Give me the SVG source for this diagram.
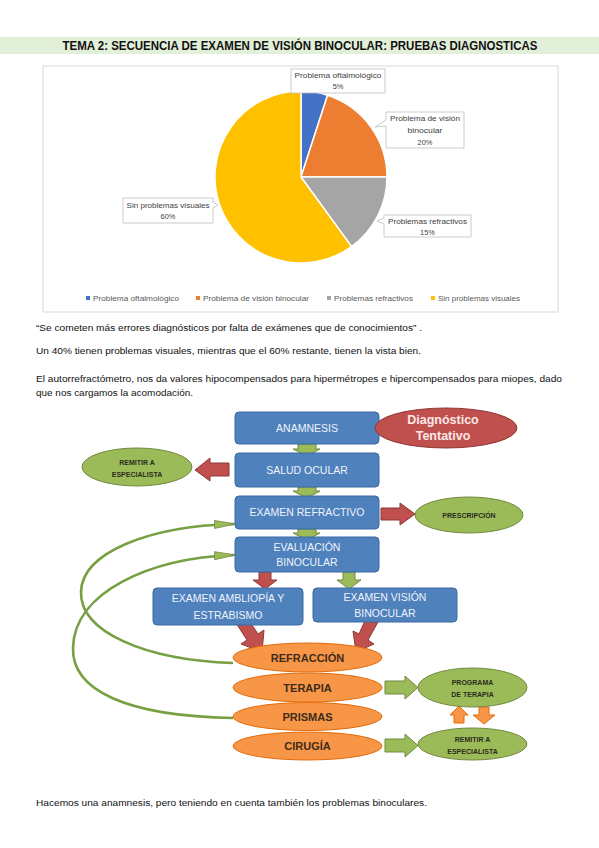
<svg xmlns="http://www.w3.org/2000/svg" width="599" height="848" viewBox="0 0 599 848">
<defs>
<style>
.body{font-family:"Liberation Sans",Arial,sans-serif;font-size:9.6px;fill:#111}
.lbl{font-family:"Liberation Sans",Arial,sans-serif;font-size:7.4px;fill:#404040;text-anchor:middle}
.leg{font-family:"Liberation Sans",Arial,sans-serif;font-size:7.4px;fill:#595959}
.lblbox{fill:#fff;stroke:#bfbfbf;stroke-width:0.8}
.box{fill:#4f81bd;stroke:#3a6aa6;stroke-width:1}
.boxt{font-family:"Liberation Sans",Arial,sans-serif;font-size:10.5px;fill:#eef3fa;text-anchor:middle}
.gr{fill:#9bbb59;stroke:#71893f;stroke-width:1}
.grt{font-family:"Liberation Sans",Arial,sans-serif;font-size:7px;font-weight:bold;fill:#2b2b1c;text-anchor:middle}
.rd{fill:#c0504d;stroke:#8c3836;stroke-width:1}
.or{fill:#f79646;stroke:#e46c0a;stroke-width:1}
.ort{font-family:"Liberation Sans",Arial,sans-serif;font-size:11px;font-weight:bold;fill:#3d2b1c;text-anchor:middle}
.dgt{font-family:"Liberation Sans",Arial,sans-serif;font-size:12.5px;font-weight:bold;fill:#fbe9e8;text-anchor:middle}
.curve{fill:none;stroke:#77a043;stroke-width:2.6}
</style>
<marker id="gh" viewBox="0 0 22 9" refX="20" refY="4.5" markerWidth="22" markerHeight="9" markerUnits="userSpaceOnUse" orient="auto">
<path d="M0.5,0.5 L21.5,4.5 L0.5,8.5 Z" fill="#9bbb59" stroke="#71893f" stroke-width="0.8"/>
</marker>
</defs>
<rect width="599" height="848" fill="#fff"/>

<!-- Title -->
<rect x="0" y="37" width="599" height="17" fill="#e2efd9"/>
<text x="300" y="50" font-family="'Liberation Sans',Arial,sans-serif" font-size="12.5" font-weight="bold" fill="#111" text-anchor="middle" textLength="475" lengthAdjust="spacingAndGlyphs">TEMA 2: SECUENCIA DE EXAMEN DE VISIÓN BINOCULAR: PRUEBAS DIAGNOSTICAS</text>

<!-- Chart -->
<g id="chart">
<rect x="43" y="66" width="515" height="246" fill="#fff" stroke="#d9d9d9" stroke-width="1"/>
<g stroke="#fff" stroke-width="1.5">
<path d="M301,177 L301,91 A86,86 0 0 1 327.57,95.21 Z" fill="#4472c4"/>
<path d="M301,177 L327.57,95.21 A86,86 0 0 1 387,177 Z" fill="#ed7d31"/>
<path d="M301,177 L387,177 A86,86 0 0 1 351.55,246.57 Z" fill="#a5a5a5"/>
<path d="M301,177 L351.55,246.57 A86,86 0 1 1 301,91 Z" fill="#ffc000"/>
</g>
<rect class="lblbox" x="291" y="69" width="94" height="24"/>
<text class="lbl" x="338" y="78" textLength="87" lengthAdjust="spacingAndGlyphs">Problema oftalmológico</text>
<text class="lbl" x="338" y="89">5%</text>
<path class="lblbox" d="M386,112 H464 V148 H386 V126 L375,127 L386,120 Z"/>
<text class="lbl" x="425" y="121" textLength="70" lengthAdjust="spacingAndGlyphs">Problema de visión</text>
<text class="lbl" x="425" y="133" textLength="35" lengthAdjust="spacingAndGlyphs">binocular</text>
<text class="lbl" x="425" y="145">20%</text>
<path class="lblbox" d="M384,215 H471 V237 H384 V224 L377,221 L384,218 Z"/>
<text class="lbl" x="427.5" y="224" textLength="79" lengthAdjust="spacingAndGlyphs">Problemas refractivos</text>
<text class="lbl" x="427.5" y="235">15%</text>
<path class="lblbox" d="M123,198 H213 V202 L218,205 L213,208 V223 H123 Z"/>
<text class="lbl" x="168" y="208" textLength="83" lengthAdjust="spacingAndGlyphs">Sin problemas visuales</text>
<text class="lbl" x="168" y="219">60%</text>
<rect x="86" y="296" width="4" height="4" fill="#4472c4"/>
<text class="leg" x="93" y="300.5" textLength="86" lengthAdjust="spacingAndGlyphs">Problema oftalmológico</text>
<rect x="196" y="296" width="4" height="4" fill="#ed7d31"/>
<text class="leg" x="203" y="300.5" textLength="106" lengthAdjust="spacingAndGlyphs">Problema de visión binocular</text>
<rect x="327" y="296" width="4" height="4" fill="#a5a5a5"/>
<text class="leg" x="334" y="300.5" textLength="79" lengthAdjust="spacingAndGlyphs">Problemas refractivos</text>
<rect x="431" y="296" width="4" height="4" fill="#ffc000"/>
<text class="leg" x="438" y="300.5" textLength="82" lengthAdjust="spacingAndGlyphs">Sin problemas visuales</text>
</g>

<!-- Body text -->
<text class="body" x="36" y="331" textLength="386" lengthAdjust="spacingAndGlyphs">“Se cometen más errores diagnósticos por falta de exámenes que de conocimientos” .</text>
<text class="body" x="36" y="354" textLength="385" lengthAdjust="spacingAndGlyphs">Un 40% tienen problemas visuales, mientras que el 60% restante, tienen la vista bien.</text>
<text class="body" x="36" y="382" textLength="526" lengthAdjust="spacingAndGlyphs">El autorrefractómetro, nos da valores hipocompensados para hipermétropes e hipercompensados para miopes, dado</text>
<text class="body" x="36" y="396" textLength="157" lengthAdjust="spacingAndGlyphs">que nos cargamos la acomodación.</text>
<text class="body" x="36" y="806" textLength="391" lengthAdjust="spacingAndGlyphs">Hacemos una anamnesis, pero teniendo en cuenta también los problemas binoculares.</text>

<!-- Connectors -->
<g id="connectors">
<path class="curve" d="M233,663 C145,660 80,632 81,592 C82,552 150,526 234,524" marker-end="url(#gh)"/>
<path class="curve" d="M233,718 C125,716 72,690 73,648 C74,592 150,558 234,555" marker-end="url(#gh)"/>
<path class="gr" d="M298,444 H316 V449 H320 L307,456 L293,449 H298 Z"/>
<path class="gr" d="M298,487 H316 V491 H320 L307,498 L293,491 H298 Z"/>
<path class="gr" d="M298,529 H316 V533 H320 L307,540 L293,533 H298 Z"/>
<path class="rd" d="M229,463 H210 V458 L195,470 L210,481 V476 H229 Z"/>
<path class="rd" d="M381,508 H400 V503 L415,514 L400,525 V520 H381 Z"/>
<path class="rd" d="M259,572 H271 V580 H277 L265,589 L253,580 H259 Z"/>
<path class="gr" d="M343,572 H355 V580 H361 L349,589 L337,580 H343 Z"/>
<path class="rd" d="M236,623 L246,616 L258,634 L264,630 L262,652 L241,644 L247,640 Z"/>
<path class="rd" d="M367,616 L378,622 L368,640 L374,644 L356,652 L353,631 L359,634 Z"/>
<path class="gr" d="M385,681 H405 V676 L418,687.5 L405,699 V694 H385 Z"/>
<path class="gr" d="M385,739 H405 V734 L418,745.5 L405,757 V752 H385 Z"/>
<path class="or" d="M459,706 L468,715 H464 V723 H454 V715 H450 Z"/>
<path class="or" d="M479,707 H489 V715 H495 L484,724 L473,715 H479 Z"/>
</g>

<!-- Nodes -->
<g id="n-anamnesis">
<rect class="box" x="235" y="412" width="144" height="32" rx="4"/>
<text class="boxt" x="307" y="432">ANAMNESIS</text>
</g>
<g id="n-diagnostico">
<ellipse cx="446" cy="428" rx="71" ry="20" fill="#c0504d" stroke="#8c3836" stroke-width="1"/>
<text class="dgt" x="443" y="424">Diagnóstico</text>
<text class="dgt" x="443" y="440">Tentativo</text>
</g>
<g id="n-salud">
<rect class="box" x="235" y="453" width="144" height="34" rx="4"/>
<text class="boxt" x="307" y="474">SALUD OCULAR</text>
</g>
<g id="n-remitir1">
<ellipse class="gr" cx="137" cy="467" rx="55" ry="19"/>
<text class="grt" x="137" y="465">REMITIR A</text>
<text class="grt" x="137" y="477">ESPECIALISTA</text>
</g>
<g id="n-refractivo">
<rect class="box" x="235" y="496" width="144" height="33" rx="4"/>
<text class="boxt" x="307" y="516">EXAMEN REFRACTIVO</text>
</g>
<g id="n-prescripcion">
<ellipse class="gr" cx="469" cy="515" rx="54" ry="18"/>
<text class="grt" x="469" y="518">PRESCRIPCIÓN</text>
</g>
<g id="n-evaluacion">
<rect class="box" x="235" y="537" width="144" height="35" rx="4"/>
<text class="boxt" x="307" y="551">EVALUACIÓN</text>
<text class="boxt" x="307" y="566">BINOCULAR</text>
</g>
<g id="n-ambliopia">
<rect class="box" x="153" y="588" width="150" height="37" rx="4"/>
<text class="boxt" x="228" y="602">EXAMEN AMBLIOPÍA Y</text>
<text class="boxt" x="228" y="619">ESTRABISMO</text>
</g>
<g id="n-vision">
<rect class="box" x="313" y="588" width="144" height="34" rx="4"/>
<text class="boxt" x="385" y="601">EXAMEN VISIÓN</text>
<text class="boxt" x="385" y="617">BINOCULAR</text>
</g>
<g id="n-refraccion">
<ellipse class="or" cx="307.5" cy="657.5" rx="74.5" ry="14.5"/>
<text class="ort" x="307.5" y="661.5">REFRACCIÓN</text>
</g>
<g id="n-terapia">
<ellipse class="or" cx="307.5" cy="687.5" rx="74.5" ry="14.5"/>
<text class="ort" x="307.5" y="691.5">TERAPIA</text>
</g>
<g id="n-prismas">
<ellipse class="or" cx="307.5" cy="716.5" rx="74.5" ry="14"/>
<text class="ort" x="307.5" y="720.5">PRISMAS</text>
</g>
<g id="n-cirugia">
<ellipse class="or" cx="307.5" cy="746" rx="74.5" ry="14"/>
<text class="ort" x="307.5" y="750">CIRUGÍA</text>
</g>
<g id="n-programa">
<ellipse class="gr" cx="472.5" cy="687.5" rx="54.5" ry="19.5"/>
<text class="grt" x="472.5" y="685">PROGRAMA</text>
<text class="grt" x="472.5" y="697">DE TERAPIA</text>
</g>
<g id="n-remitir2">
<ellipse class="gr" cx="472.5" cy="744" rx="54.5" ry="16"/>
<text class="grt" x="472.5" y="742">REMITIR A</text>
<text class="grt" x="472.5" y="754">ESPECIALISTA</text>
</g>
</svg>
